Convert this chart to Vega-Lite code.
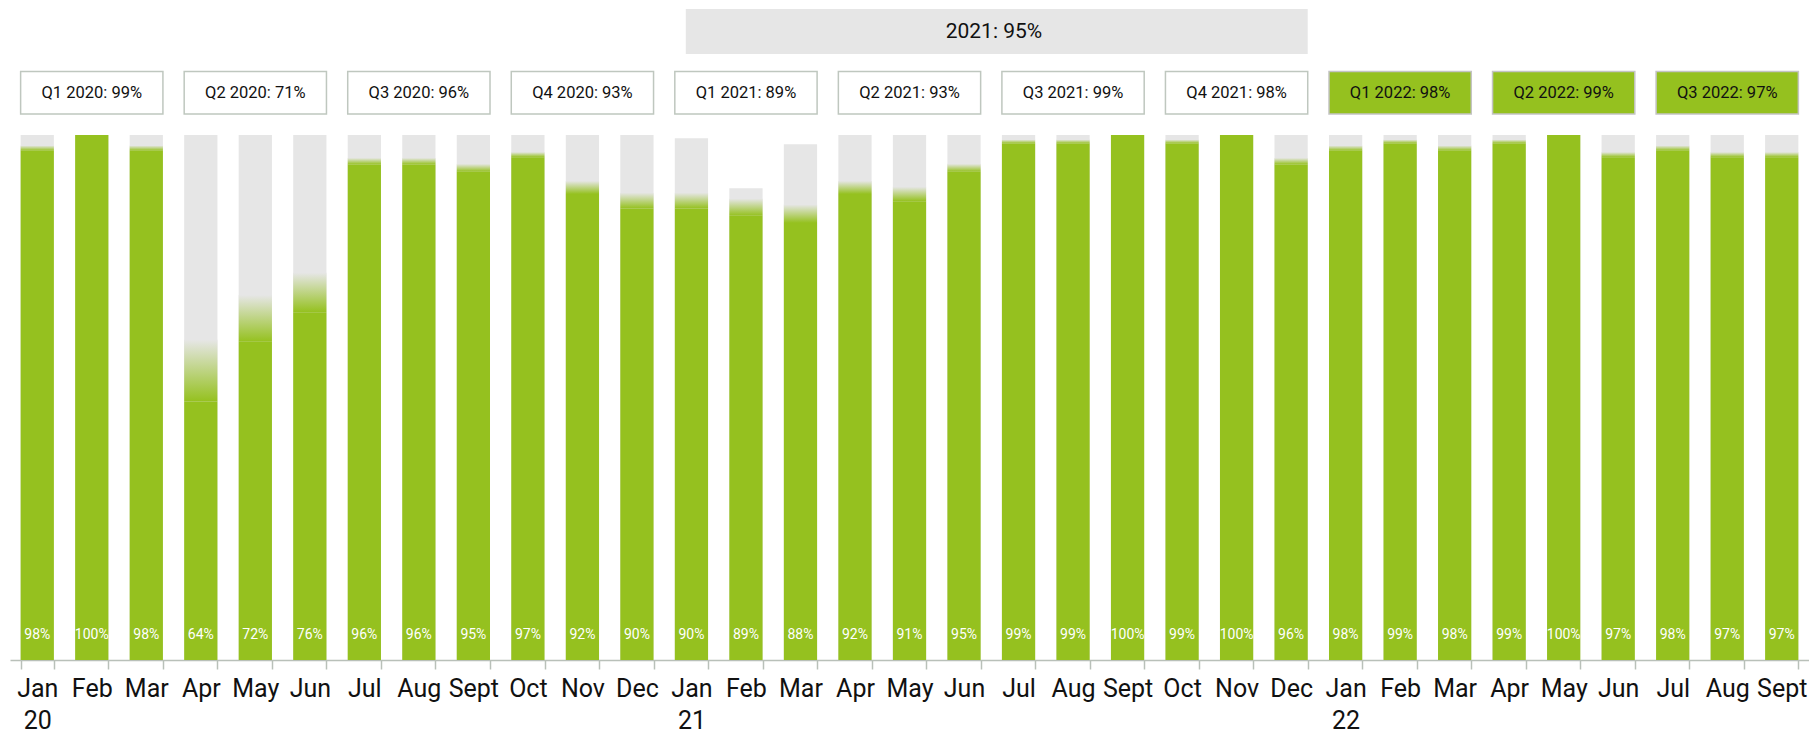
{
  "$schema": "https://vega.github.io/schema/vega-lite/v6.json",
  "width": 1799,
  "height": 660,
  "padding": {"left": 10, "top": 0, "right": 0, "bottom": 0},
  "background": "white",
  "config": {"view": {"stroke": null}, "font": "Roboto"},
  "resolve": {"axis": {"x": "independent"}},
  "datasets": {
    "months": [
      {"m": "Jan 20", "v": 0.98, "t": 1, "lo": 0.976, "hi": 0.984},
      {"m": "Feb 20", "v": 1.0, "t": 1, "lo": 1.0, "hi": 1.0},
      {"m": "Mar 20", "v": 0.98, "t": 1, "lo": 0.976, "hi": 0.984},
      {"m": "Apr 20", "v": 0.64, "t": 1, "lo": 0.594, "hi": 0.688},
      {"m": "May 20", "v": 0.72, "t": 1, "lo": 0.685, "hi": 0.756},
      {"m": "Jun 20", "v": 0.76, "t": 1, "lo": 0.73, "hi": 0.79},
      {"m": "Jul 20", "v": 0.96, "t": 1, "lo": 0.955, "hi": 0.965},
      {"m": "Aug 20", "v": 0.96, "t": 1, "lo": 0.955, "hi": 0.965},
      {"m": "Sept 20", "v": 0.95, "t": 1, "lo": 0.944, "hi": 0.956},
      {"m": "Oct 20", "v": 0.97, "t": 1, "lo": 0.966, "hi": 0.974},
      {"m": "Nov 20", "v": 0.92, "t": 1, "lo": 0.91, "hi": 0.93},
      {"m": "Dec 20", "v": 0.90, "t": 1, "lo": 0.888, "hi": 0.912},
      {"m": "Jan 21", "v": 0.90, "t": 0.995, "lo": 0.888, "hi": 0.912},
      {"m": "Feb 21", "v": 0.89, "t": 0.919, "lo": 0.877, "hi": 0.903},
      {"m": "Mar 21", "v": 0.88, "t": 0.986, "lo": 0.866, "hi": 0.894},
      {"m": "Apr 21", "v": 0.92, "t": 1, "lo": 0.91, "hi": 0.93},
      {"m": "May 21", "v": 0.91, "t": 1, "lo": 0.899, "hi": 0.921},
      {"m": "Jun 21", "v": 0.95, "t": 1, "lo": 0.944, "hi": 0.956},
      {"m": "Jul 21", "v": 0.99, "t": 1, "lo": 0.987, "hi": 0.993},
      {"m": "Aug 21", "v": 0.99, "t": 1, "lo": 0.987, "hi": 0.993},
      {"m": "Sept 21", "v": 1.0, "t": 1, "lo": 1.0, "hi": 1.0},
      {"m": "Oct 21", "v": 0.99, "t": 1, "lo": 0.987, "hi": 0.993},
      {"m": "Nov 21", "v": 1.0, "t": 1, "lo": 1.0, "hi": 1.0},
      {"m": "Dec 21", "v": 0.96, "t": 1, "lo": 0.955, "hi": 0.965},
      {"m": "Jan 22", "v": 0.98, "t": 1, "lo": 0.976, "hi": 0.984},
      {"m": "Feb 22", "v": 0.99, "t": 1, "lo": 0.987, "hi": 0.993},
      {"m": "Mar 22", "v": 0.98, "t": 1, "lo": 0.976, "hi": 0.984},
      {"m": "Apr 22", "v": 0.99, "t": 1, "lo": 0.987, "hi": 0.993},
      {"m": "May 22", "v": 1.0, "t": 1, "lo": 1.0, "hi": 1.0},
      {"m": "Jun 22", "v": 0.97, "t": 1, "lo": 0.966, "hi": 0.974},
      {"m": "Jul 22", "v": 0.98, "t": 1, "lo": 0.976, "hi": 0.984},
      {"m": "Aug 22", "v": 0.97, "t": 1, "lo": 0.966, "hi": 0.974},
      {"m": "Sept 22", "v": 0.97, "t": 1, "lo": 0.966, "hi": 0.974}
    ],
    "quarters": [
      {"m": "Jan 20", "m2": "Mar 20", "mid": "Feb 20", "yr": "2020", "label": "Q1 2020: 99%"},
      {"m": "Apr 20", "m2": "Jun 20", "mid": "May 20", "yr": "2020", "label": "Q2 2020: 71%"},
      {"m": "Jul 20", "m2": "Sept 20", "mid": "Aug 20", "yr": "2020", "label": "Q3 2020: 96%"},
      {"m": "Oct 20", "m2": "Dec 20", "mid": "Nov 20", "yr": "2020", "label": "Q4 2020: 93%"},
      {"m": "Jan 21", "m2": "Mar 21", "mid": "Feb 21", "yr": "2021", "label": "Q1 2021: 89%"},
      {"m": "Apr 21", "m2": "Jun 21", "mid": "May 21", "yr": "2021", "label": "Q2 2021: 93%"},
      {"m": "Jul 21", "m2": "Sept 21", "mid": "Aug 21", "yr": "2021", "label": "Q3 2021: 99%"},
      {"m": "Oct 21", "m2": "Dec 21", "mid": "Nov 21", "yr": "2021", "label": "Q4 2021: 98%"},
      {"m": "Jan 22", "m2": "Mar 22", "mid": "Feb 22", "yr": "2022", "label": "Q1 2022: 98%"},
      {"m": "Apr 22", "m2": "Jun 22", "mid": "May 22", "yr": "2022", "label": "Q2 2022: 99%"},
      {"m": "Jul 22", "m2": "Sept 22", "mid": "Aug 22", "yr": "2022", "label": "Q3 2022: 97%"}
    ],
    "years": [
      {"m": "Jan 21", "m2": "Dec 21", "mid": "Jun 21", "label": "2021: 95%"}
    ]
  },
  "layer": [
    {
      "data": {"name": "months"},
      "mark": {"type": "bar", "color": "#e6e6e6"},
      "encoding": {
        "x": {
          "field": "m", "type": "ordinal", "sort": null,
          "scale": {"domain": ["Jan 20","Feb 20","Mar 20","Apr 20","May 20","Jun 20","Jul 20","Aug 20","Sept 20","Oct 20","Nov 20","Dec 20","Jan 21","Feb 21","Mar 21","Apr 21","May 21","Jun 21","Jul 21","Aug 21","Sept 21","Oct 21","Nov 21","Dec 21","Jan 22","Feb 22","Mar 22","Apr 22","May 22","Jun 22","Jul 22","Aug 22","Sept 22"], "paddingInner": 0.39, "paddingOuter": 0.195},
          "axis": {
            "orient": "bottom",
            "title": null,
            "labelExpr": "isString(datum.value) ? (indexof(datum.value,'Jan')==0 ? split(datum.value,' ') : split(datum.value,' ')[0]) : ''",
            "labelAngle": 0,
            "labelFontSize": 25,
            "labelColor": "#111111",
            "labelLineHeight": 32,
            "labelPadding": 7,
            "labelBaseline": "top",
            "tickBand": "extent",
            "tickSize": 9,
            "tickWidth": 1.5,
            "tickColor": "#b9c0b9",
            "domainColor": "#b9c0b9",
            "domainWidth": 1.5,
            "grid": false
          }
        },
        "y": {"field": "t", "type": "quantitative", "scale": {"domain": [0.2, 1.2057], "nice": false, "zero": false}, "axis": null},
        "y2": {"datum": 0.2}
      }
    },
    {
      "data": {"name": "months"},
      "mark": {"type": "bar", "color": "#95c11f"},
      "encoding": {
        "x": {"field": "m", "type": "ordinal", "sort": null, "axis": null},
        "y": {"field": "lo", "type": "quantitative"},
        "y2": {"datum": 0.2}
      }
    },
    {
      "data": {"name": "months"},
      "mark": {"type": "bar", "color": {"gradient": "linear", "x1": 0, "y1": 1, "x2": 0, "y2": 0, "stops": [{"offset": 0, "color": "#95c11f"}, {"offset": 1, "color": "#e6e6e6"}]}},
      "encoding": {
        "x": {"field": "m", "type": "ordinal", "sort": null, "axis": null},
        "y": {"field": "hi", "type": "quantitative"},
        "y2": {"field": "lo"}
      }
    },
    {
      "data": {"name": "months"},
      "mark": {"type": "text", "color": "white", "fontSize": 14, "baseline": "middle", "dy": -25},
      "encoding": {
        "x": {"field": "m", "type": "ordinal", "sort": null, "axis": null},
        "y": {"datum": 0.2},
        "text": {"field": "v", "type": "quantitative", "format": ".0%"}
      }
    },
    {
      "data": {"name": "years"},
      "mark": {"type": "rect", "color": "#e6e6e6"},
      "encoding": {
        "x": {"field": "m", "type": "ordinal", "sort": null, "bandPosition": 0.33, "axis": null},
        "x2": {"field": "m2", "bandPosition": 1},
        "y": {"datum": 1.1234},
        "y2": {"datum": 1.192}
      }
    },
    {
      "data": {"name": "years"},
      "mark": {"type": "text", "fontSize": 21, "color": "#111111", "baseline": "middle"},
      "encoding": {
        "x": {"field": "mid", "type": "ordinal", "sort": null, "bandPosition": 1.4, "axis": null},
        "y": {"datum": 1.1577},
        "text": {"field": "label"}
      }
    },
    {
      "data": {"name": "quarters"},
      "mark": {"type": "rect", "strokeWidth": 1.5},
      "encoding": {
        "x": {"field": "m", "type": "ordinal", "sort": null, "bandPosition": 0, "axis": null},
        "x2": {"field": "m2", "bandPosition": 1},
        "y": {"datum": 1.032},
        "y2": {"datum": 1.0968},
        "fill": {"field": "yr", "type": "nominal", "scale": {"domain": ["2020", "2021", "2022"], "range": ["#ffffff", "#ffffff", "#95c11f"]}, "legend": null},
        "stroke": {"field": "yr", "type": "nominal", "scale": {"domain": ["2020", "2021", "2022"], "range": ["#bfc7bf", "#bfc7bf", "#c4c4c4"]}, "legend": null}
      }
    },
    {
      "data": {"name": "quarters"},
      "mark": {"type": "text", "fontSize": 16.5, "color": "#111111", "baseline": "middle"},
      "encoding": {
        "x": {"field": "mid", "type": "ordinal", "sort": null, "bandPosition": 0.5, "axis": null},
        "y": {"datum": 1.0644},
        "text": {"field": "label"}
      }
    }
  ]
}
